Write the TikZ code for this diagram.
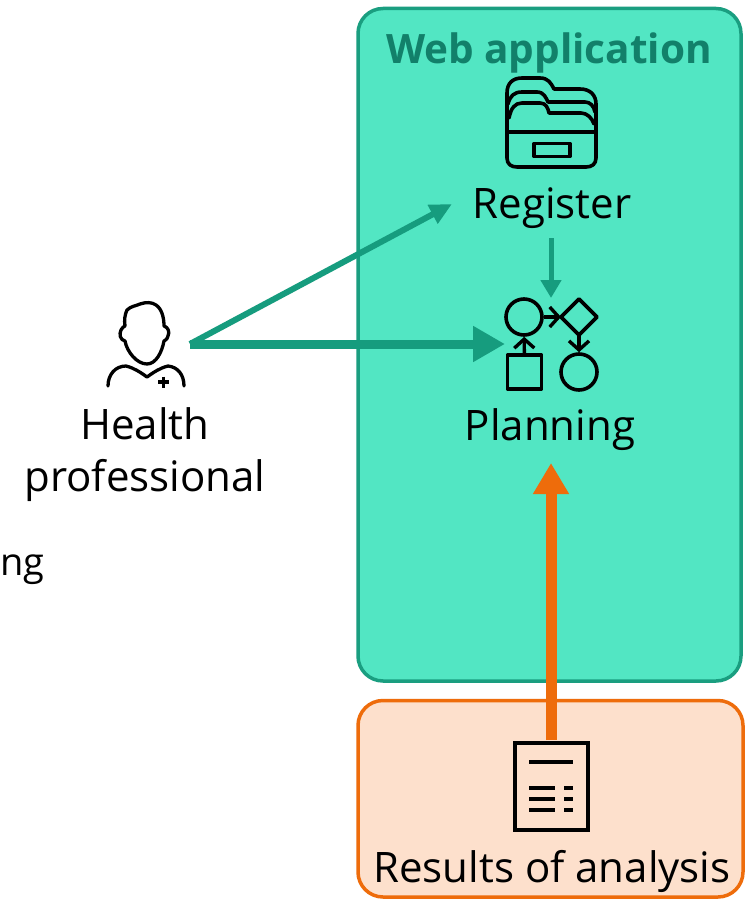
\documentclass[tikz,border=0pt]{standalone}
\usepackage{fontspec}
\setmainfont{Open Sans}
\usetikzlibrary{arrows.meta,calc}
\definecolor{appfill}{HTML}{52E6C3}
\definecolor{appedge}{HTML}{1A9E80}
\definecolor{apptext}{HTML}{12806A}
\definecolor{resfill}{HTML}{FDE0CC}
\definecolor{resedge}{HTML}{EE6C0B}
\definecolor{flow}{HTML}{169C7E}
\tikzset{
  x=1pt,y=-1pt,
  panel/.style={rounded corners=25pt,line width=3.5pt},
  lbl/.style={font=\fontsize{42}{51.5}\selectfont,text=black,inner sep=0pt,align=center},
  icon/.style={line width=3.6pt,draw=black,line cap=round,line join=round},
  inner/.style={-{Straight Barb[length=9pt,width=20pt,line width=3.4pt]},line width=3.4pt,draw=black}
}
\begin{document}
\begin{tikzpicture}
\useasboundingbox (0,0) rectangle (751,899);
\fill[white] (0,0) rectangle (751,899);
% panels
\draw[panel,draw=appedge,fill=appfill] (358,8.5) rectangle (741,681);
\draw[panel,draw=resedge,fill=resfill] (358,700.5) rectangle (743,897);
\node[font=\fontsize{40.5}{48}\selectfont\bfseries,text=apptext,inner sep=0pt] (title) at (549,53) {Web application};
\node[lbl] (register) at (552,208) {Register};
\node[lbl] (planning) at (550,430) {Planning};
\node[lbl] (health) at (145,454.5) {Health\\professional};
\node[lbl] (results) at (552,871) {Results of analysis};
\node[lbl,font=\fontsize{38}{46}\selectfont,anchor=west] (cut) at (0,570) {ng};
% folder icon
\draw[icon] (596,132) -- (596,158) .. controls (596,164) and (592,167) .. (586,167) -- (517,167) .. controls (511,167) and (507,164) .. (507,158) -- (507,93) .. controls (507,83) and (513,78) .. (522,78) -- (540,78) .. controls (548,78) and (551,83) .. (554,89) -- (580,89) .. controls (590,89) and (596,95) .. (596,104) -- cycle;
\draw[icon] (508,104) .. controls (510,96) and (514,92) .. (522,92) -- (537,92) .. controls (544,92) and (546,98) .. (548,102) -- (585,102) .. controls (590,102) and (594,106) .. (595,112);
\draw[icon] (509,118) .. controls (511,108) and (515,103) .. (522,103) -- (540,103) .. controls (546,103) and (548,108) .. (549,113) -- (581,113) .. controls (587,113) and (592,118) .. (594,124);
\draw[icon] (508,132) -- (596,132);
\draw[icon] (534,143.5) rectangle (570,156.5);
% planning icon
\node[icon,circle,minimum size=36pt,inner sep=0pt] (c1) at (524,317) {};
\node[icon,circle,minimum size=36pt,inner sep=0pt] (c2) at (579,372) {};
\node[icon,rectangle,minimum size=34pt,inner sep=0pt] (sq) at (524.5,372) {};
\draw[icon] (579,299) -- (597,317) -- (579,335) -- (561,317) -- cycle;
\coordinate (dl) at (561,317);
\coordinate (db) at (579,335);
\draw[inner] (c1) -- (dl);
\draw[inner] (db) -- (c2);
\draw[inner] (sq) -- (c1);
% person icon
\draw[icon,line width=3.3pt] (127,310) .. controls (131,306) and (136,306) .. (140,304) .. controls (146,302) and (152,302) .. (156,305) .. controls (162,309) and (164,318) .. (164,326) .. controls (168,327) and (170,332) .. (168,336) .. controls (167,340) and (165,340) .. (164,341) .. controls (162,352) and (156,364) .. (147,364) .. controls (137,364) and (127,352) .. (125,341) .. controls (120,340) and (119,334) .. (121,330) .. controls (122,327) and (124,327) .. (125,326) .. controls (124,320) and (125,314) .. (127,310) -- cycle;
\draw[icon,line width=3.3pt] (108,386) .. controls (108,375) and (115,366) .. (126,366) .. controls (134,368) and (140,372) .. (147,377) .. controls (154,372) and (160,368) .. (168,366) .. controls (178,367) and (184,375) .. (184,386);
\draw[icon,line width=3.3pt,line cap=butt] (158,382) -- (169,382) (163.5,376.5) -- (163.5,387.5);
\coordinate (person) at (190,344);
\coordinate (regin) at (452,204);
\coordinate (planin) at (505,344);
% document icon
\draw[line width=4pt,draw=black,line join=miter] (514.5,742.5) rectangle (588,830);
\draw[line width=3.6pt,draw=black] (529,762) -- (573,762)
 (529,788) -- (555,788) (564,788) -- (573,788)
 (529,799) -- (555,799) (564,799) -- (573,799)
 (529,810) -- (555,810) (564,810) -- (573,810);
\coordinate (docTop) at (551,740);
\coordinate (planBottom) at (551,463);
% connectors
\draw[draw=flow,line width=6pt,-{Triangle[length=22pt,width=20pt]}] (person) -- (regin);
\draw[draw=flow,line width=9pt,-{Triangle[length=32pt,width=34pt]}] (person) -- (planin);
\coordinate (regBottom) at (551,238);
\coordinate (planTop) at (551,298);
\draw[draw=flow,line width=5pt,-{Triangle[length=18pt,width=20pt]}] (regBottom) -- (planTop);
\draw[draw=resedge,line width=11pt,-{Triangle[length=31pt,width=34pt]}] (docTop) -- (planBottom);
\end{tikzpicture}
\end{document}
